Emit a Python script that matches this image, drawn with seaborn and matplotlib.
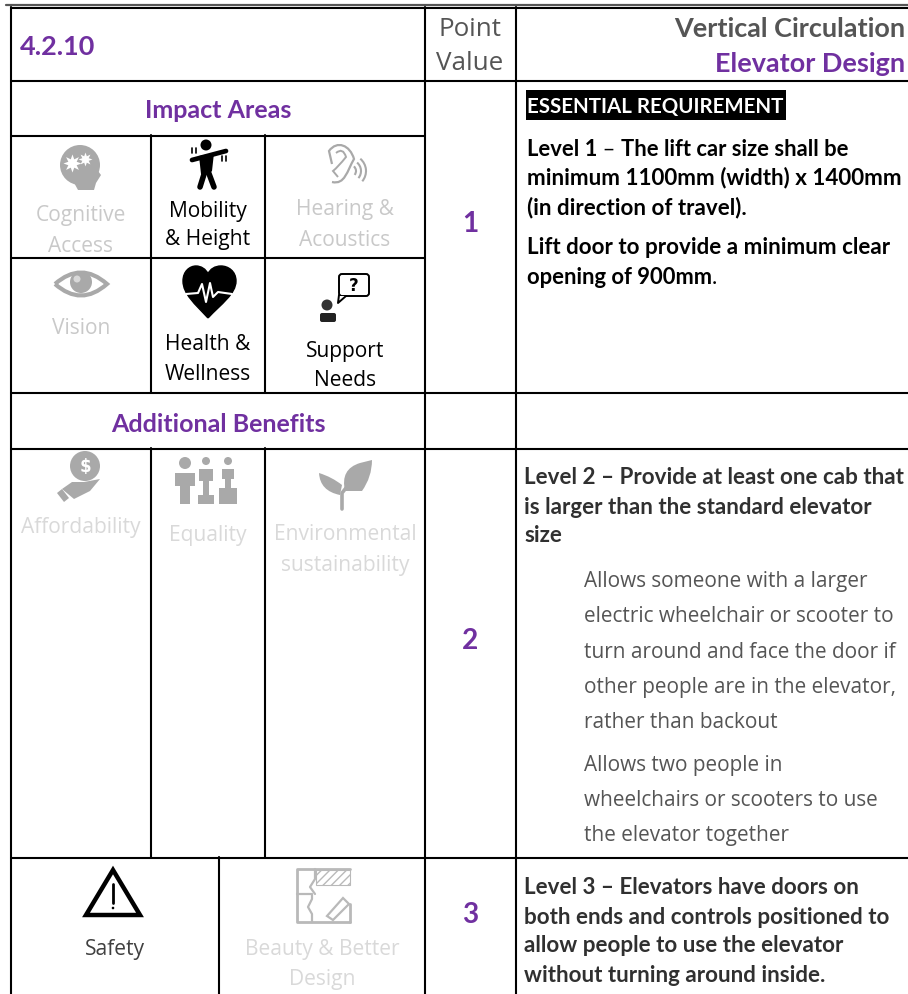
import matplotlib
matplotlib.use('Agg')
import matplotlib.pyplot as plt
import seaborn as sns
from matplotlib.patches import Circle, Polygon, Rectangle, Arc, FancyBboxPatch, PathPatch
from matplotlib.path import Path

sns.set_theme(style='white')

PURPLE = '#7030a0'
DARK = '#555555'
FADED = '#c9c9c9'
ICON = '#a9a9a9'
BODY = 'Open Sans'
HEAD = 'Lato'

# table rules: (position, start, end)
h_rules = [(8, 11, 908), (81, 11, 908), (136, 11, 425), (258, 11, 425),
           (393, 11, 908), (449, 11, 908), (858, 11, 908)]
v_rules = [(11, 8, 995), (425, 8, 995), (516, 8, 995), (151, 136, 393),
           (265, 136, 393), (151, 449, 858), (265, 449, 858), (219, 858, 995)]

# impact area labels: (text, x, y, colour)
labels = [('Cognitive', 81, 214, FADED), ('Access', 81, 244, FADED),
          ('Mobility', 208, 209, 'black'), ('& Height', 208, 238, 'black'),
          ('Hearing &', 345, 208, FADED), ('Acoustics', 345, 238, FADED),
          ('Vision', 81, 326, FADED),
          ('Health &', 208, 342, 'black'), ('Wellness', 208, 372, 'black'),
          ('Support', 345, 350, 'black'), ('Needs', 345, 379, 'black'),
          ('Affordability', 81, 525, '#d9d9d9'), ('Equality', 208, 533, '#d9d9d9'),
          ('Environmental', 345, 533, '#d9d9d9'), ('sustainability', 345, 563, '#d9d9d9'),
          ('Safety', 115, 947, '#404040'),
          ('Beauty & Better', 322, 948, '#d9d9d9'), ('Design', 322, 977, '#d9d9d9')]

section_heads = [('Impact Areas', 218, 109), ('Additional Benefits', 218, 422)]
point_values = [('1', 470, 222), ('2', 470, 639), ('3', 470, 913)]

level_bold = [('minimum 1100mm (width) x 1400mm', 176), ('(in direction of travel).', 206),
              ('Lift door to provide a minimum clear', 246),
              ('Level 2 – Provide at least one cab that', 476),
              ('is larger than the standard elevator', 505), ('size', 534),
              ('Level 3 – Elevators have doors on', 885),
              ('both ends and controls positioned to', 915),
              ('allow people to use the elevator', 944),
              ('without turning around inside.', 973)]
level_notes = [('Allows someone with a larger', 580), ('electric wheelchair or scooter to', 615),
               ('turn around and face the door if', 650), ('other people are in the elevator,', 685),
               ('rather than backout', 721), ('Allows two people in', 764),
               ('wheelchairs or scooters to use', 799), ('the elevator together', 834)]


def px(size):
    return size * 0.72


fig = plt.figure(figsize=(9.08, 9.95), dpi=100, facecolor='white')
ax = fig.add_axes([0, 0, 1, 1])
ax.set_xlim(0, 908)
ax.set_ylim(995, 0)

sns.lineplot(x=[6, 908], y=[6, 6], color='#555555', linewidth=1.6, ax=ax, estimator=None, sort=False)
for y, x0, x1 in h_rules:
    sns.lineplot(x=[x0, x1], y=[y + 0.5, y + 0.5], color='black', linewidth=1.5, ax=ax, estimator=None, sort=False)
for x, y0, y1 in v_rules:
    sns.lineplot(x=[x, x], y=[y0, y1], color='black', linewidth=1.5, ax=ax, estimator=None, sort=False)


def put(s, x, y, size, color='black', family=BODY, weight='normal', ha='left'):
    return ax.text(x, y + 2, s, fontsize=px(size), color=color, family=family, weight=weight,
                   ha=ha, va='center')


def runs(parts, x, y, size):
    # bold and regular pieces on one baseline
    r = fig.canvas.get_renderer()
    for s, weight in parts:
        t = ax.text(x, y, s.replace(' ', '\u00a0'), fontsize=px(size), color='black', family=HEAD,
                    weight=weight, ha='left', va='baseline')
        x += t.get_window_extent(r).width


put('4.2.10', 20, 45, 27, PURPLE, HEAD, 'bold')
put('Point', 470, 27, 26, DARK, ha='center')
put('Value', 470, 62, 26, DARK, ha='center')
put('Vertical Circulation', 905, 27, 27, DARK, HEAD, 'bold', ha='right')
put('Elevator Design', 905, 62, 27, PURPLE, HEAD, 'bold', ha='right')
for s, x, y in section_heads:
    put(s, x, y, 25, PURPLE, HEAD, 'bold', ha='center')
for s, x, y in point_values:
    put(s, x, y, 28, PURPLE, HEAD, 'bold', ha='center')
for s, x, y, c in labels:
    put(s, x, y, 21, c, ha='center')

ax.add_patch(Rectangle((526, 91), 260, 30, color='black', lw=0))
put('ESSENTIAL REQUIREMENT', 527, 105, 20.5, 'white', HEAD, 'bold')
runs([('Level 1', 'bold'), (' – ', 'normal'), ('The lift car size shall be', 'bold')], 527, 156, 22)
runs([('opening of 900mm', 'bold'), ('.', 'normal')], 527, 284, 22)
for s, y in level_bold:
    c = '#303030' if y > 400 else 'black'
    put(s, 527 if y < 400 else 524, y, 22.4, c, HEAD, 'bold')
for s, y in level_notes:
    put(s, 584, y, 20.8, DARK)

# icons, grey ones first
# cognitive head
ax.add_patch(Circle((80, 166), 20, color=ICON, lw=0))
ax.add_patch(Polygon([(72, 180), (98, 172), (101, 176), (96, 184), (94, 191), (78, 191)], color=ICON, lw=0))
ax.plot([72], [164], marker=(8, 1, 0), ms=13, color='white', mew=0)
ax.plot([85], [160], marker=(8, 1, 0), ms=10, color='white', mew=0)
ax.add_patch(Circle((72, 164), 2, color=ICON, lw=0))
ax.add_patch(Circle((85, 160), 1.5, color=ICON, lw=0))

# ear
ear_out = Path([(332, 183), (345, 186), (347, 172), (354, 160), (350, 146), (337, 141), (329, 152), (332, 165)],
               [Path.MOVETO, Path.CURVE4, Path.CURVE4, Path.CURVE4, Path.CURVE4, Path.CURVE4, Path.CURVE4, Path.LINETO])
ear_in = Path([(336, 154), (343, 148), (346, 158), (338, 168), (333, 172), (338, 178)],
              [Path.MOVETO, Path.CURVE3, Path.CURVE3, Path.CURVE3, Path.CURVE3, Path.LINETO])
ax.add_patch(PathPatch(ear_out, fc='none', ec=ICON, lw=1.6))
ax.add_patch(PathPatch(ear_in, fc='none', ec=ICON, lw=1.4))
for r in (6, 11, 16):
    ax.add_patch(Arc((350, 172), 2 * r, 2 * r, theta1=-50, theta2=40, color=ICON, lw=1.5))

# eye
eye = Path([(55, 285), (81, 262), (107, 285), (81, 308), (55, 285)],
           [Path.MOVETO, Path.CURVE3, Path.CURVE3, Path.CURVE3, Path.CURVE3])
ax.add_patch(PathPatch(eye, fc='white', ec=ICON, lw=3))
ax.add_patch(Circle((81, 283), 11, color=ICON, lw=0))
ax.add_patch(Circle((77, 280), 3.5, color='#d8d8d8', lw=0))

# coin in hand
ax.add_patch(Circle((85, 467), 15, color=ICON, lw=0))
ax.text(85, 467, '$', fontsize=12, color='white', weight='bold', ha='center', va='center')
ax.add_patch(Polygon([(62, 490), (72, 483), (84, 483), (100, 480), (90, 492), (74, 500)],
                     color=ICON, lw=0))
ax.add_patch(Polygon([(57, 494), (62, 490), (69, 499), (64, 503)], color=ICON, lw=0))

# equality, three people and steps
for x, y, r in [(185, 464, 6), (206, 462, 4), (228, 462, 4)]:
    ax.add_patch(Circle((x, y), r, color=ICON, lw=0))
ax.add_patch(Polygon([(175, 474), (195, 474), (195, 487), (190, 487), (190, 505), (180, 505), (180, 487), (175, 487)],
                     color=ICON, lw=0))
ax.add_patch(Polygon([(199, 470), (213, 470), (213, 482), (209, 482), (209, 496), (203, 496), (203, 482), (199, 482)],
                     color=ICON, lw=0))
ax.add_patch(Rectangle((198, 496), 16, 9, color=ICON, lw=0))
ax.add_patch(Polygon([(222, 470), (234, 470), (234, 480), (231, 480), (231, 490), (225, 490), (225, 480), (222, 480)],
                     color=ICON, lw=0))
ax.add_patch(Rectangle((219, 489), 18, 16, color=ICON, lw=0))

# plant
leaf_big = Path([(345, 492), (340, 470), (360, 464), (372, 461), (372, 478), (362, 492), (345, 492)],
                [Path.MOVETO, Path.CURVE3, Path.CURVE3, Path.LINETO, Path.CURVE3, Path.CURVE3, Path.CLOSEPOLY])
leaf_small = Path([(340, 496), (320, 492), (319, 474), (332, 478), (342, 486), (340, 496)],
                  [Path.MOVETO, Path.CURVE3, Path.CURVE3, Path.CURVE3, Path.CURVE3, Path.CLOSEPOLY])
ax.add_patch(PathPatch(leaf_big, fc=ICON, lw=0))
ax.add_patch(PathPatch(leaf_small, fc=ICON, lw=0))
ax.plot([342, 342, 350], [510, 494, 484], color=ICON, lw=2.6)

# floor plan
plan = '#b9b9b9'
ax.plot([350, 297, 297, 350], [870, 870, 923, 923], color=plan, lw=2)
ax.plot([297, 312, 312, 308, 312, 312], [895, 895, 900, 908, 915, 923], color=plan, lw=1.6)
ax.plot([350, 350], [905, 923], color=plan, lw=2)
ax.plot([315, 315, 310, 315, 315], [870, 880, 888, 895, 895], color=plan, lw=1.6)
ax.add_patch(Rectangle((316, 871), 34, 15, fc='white', ec=plan, hatch='////', lw=0.8))
ax.add_patch(Polygon([(327, 917), (343, 899), (349, 905), (333, 921)], fc='white', ec=plan, lw=1.6))

# mobility figure
ax.add_patch(Circle((206, 146), 5.5, color='black', lw=0))
ax.plot([192, 226], [161, 152], color='black', lw=3.4)
ax.add_patch(Polygon([(199, 157), (214, 154), (212, 172), (208, 176), (201, 175)], color='black', lw=0))
ax.plot([205, 200], [172, 188], color='black', lw=4)
ax.plot([208, 214], [172, 188], color='black', lw=4)
ax.plot([192, 192], [149, 154], color='black', lw=1.2)
ax.plot([196, 196], [149, 154], color='black', lw=1.2)
ax.plot([222, 222], [157, 162], color='black', lw=1.2)
ax.plot([226, 226], [157, 162], color='black', lw=1.2)

# heart
heart = Path([(208, 319), (195, 305), (183, 295), (183, 282), (183, 272), (190, 267), (196, 267),
              (201, 267), (206, 270), (208, 275), (210, 270), (215, 267), (221, 267),
              (228, 267), (236, 272), (236, 282), (236, 295), (221, 305), (208, 319)],
             [Path.MOVETO] + [Path.CURVE4] * 18)
ax.add_patch(PathPatch(heart, fc='black', ec='black', lw=1))
ax.plot([186, 198, 202, 206, 210, 213, 218, 232], [295, 294, 285, 303, 284, 298, 293, 295], color='white', lw=1.5)

# speech bubble with person
ax.add_patch(FancyBboxPatch((339, 275), 30, 22, boxstyle='round,pad=0,rounding_size=3', fc='white', ec='black', lw=1.4))
ax.add_patch(Polygon([(339, 297), (338, 303), (346, 297)], fc='white', ec='white', lw=0))
ax.plot([339, 338, 346], [296, 304, 297], color='black', lw=1.4)
ax.text(354, 286, '?', fontsize=12, color='black', weight='bold', ha='center', va='center')
ax.add_patch(Circle((327, 306), 5.5, color='#333333', lw=0))
ax.add_patch(FancyBboxPatch((320, 314), 16, 9, boxstyle='round,pad=0,rounding_size=2', color='#222222', lw=0))

# warning triangle
ax.add_patch(Polygon([(113, 871), (86, 916), (140, 916)], fc='white', ec='black', lw=3.2))
ax.plot([113, 113], [885, 904], color='black', lw=2)
ax.add_patch(Circle((113, 909), 1.3, color='black', lw=0))

ax.set_xlim(0, 908)
ax.set_ylim(995, 0)
ax.axis('off')
fig.savefig('out.png', dpi=100)
